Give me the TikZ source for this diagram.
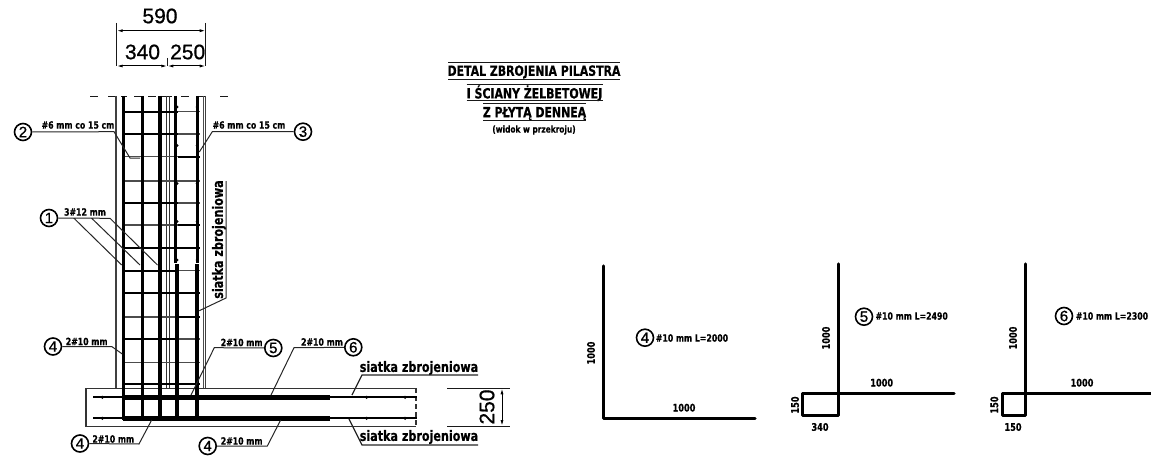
\documentclass[tikz,border=0pt]{standalone}
\usepackage{fontspec}
\setmainfont{Liberation Sans}
\newfontfamily\cadf[FakeStretch=.78,BoldFeatures={FakeBold=.5}]{DejaVu Sans}
\newfontfamily\bigf[FakeBold=.8]{Liberation Sans}
\usetikzlibrary{arrows.meta}
\tikzset{
  thinl/.style={line width=1pt,black!90},
  wall/.style={line width=1.2pt,black!75},
  leader/.style={line width=1pt,black!85},
  barA/.style={line width=3.8pt,black},
  barB/.style={line width=2.6pt,black},
  stB/.style={line width=2pt,black},
  stG/.style={line width=1.5pt,black!70},
  rebar/.style={line width=3.2pt,black,line cap=round,line join=round},
  dimtip/.style={line width=1pt,black,{Latex[length=6pt,width=3pt]}-{Latex[length=6pt,width=3pt]}},
  num/.style={circle,draw,line width=1.6pt,inner sep=0pt,minimum size=17pt,font=\fontsize{15}{15}\selectfont\bigf},
  bigt/.style={inner sep=0pt,font=\fontsize{21}{21}\selectfont\bigf},
  smallt/.style={inner sep=0pt,font=\fontsize{10}{10}\selectfont\cadf\bfseries},
  mesht/.style={inner sep=0pt,font=\fontsize{14.3}{15}\selectfont\cadf\bfseries},
  titlet/.style={inner sep=0pt,font=\fontsize{14}{14}\selectfont\cadf\bfseries},
  subt/.style={inner sep=0pt,font=\fontsize{9.5}{10}\selectfont\cadf\bfseries},
  dimt/.style={inner sep=0pt,font=\fontsize{10.5}{10}\selectfont\cadf\bfseries},
}
\begin{document}
\begin{tikzpicture}[x=1pt,y=-1pt]
\useasboundingbox (0,0) rectangle (1151,468);
% top dimensions
\node[bigt] (d590) at (160,16) {590};
\node[bigt] (d340) at (142.5,52) {340};
\node[bigt] (d250) at (187.7,52) {250};
\draw[thinl] (116.7,23)--(116.7,66) (205.7,23)--(205.7,66) (167.3,58)--(167.3,66);
\draw[dimtip] (116.7,30.7)--(205.7,30.7);
\draw[dimtip] (116.7,66)--(167.3,66);
\draw[dimtip] (167.3,66)--(205.7,66);
% break line
\foreach \a/\b in {90/98,108/116,121/127,134/141,148/156,161/172,181/189,198/206,220/228}
  \draw[thinl] (\a,96.3)--(\b,96.3);
% wall
\draw[wall] (116,96)--(116,388) (205.7,96)--(205.7,388);
\draw[line width=1.4pt,black!70] (203.6,96)--(203.6,388);
\draw[line width=1.3pt,black!80] (166.7,96)--(166.7,388) (169.2,96)--(169.2,388);
% slab
\draw[line width=1.3pt,black!80] (416,388.3)--(86,388.3)--(86,426.5)--(416,426.5);
\draw[line width=1.3pt,black!80,dash pattern=on 5pt off 3pt] (416,388.3)--(416,426.5);
% stirrups
\foreach \y/\l/\r in {111.7/stB/stG,134/stB/stG,156.7/stG/stB,181/stG/stG,203/stB/stG,225/stG/stB,248.3/stB/stB,270.7/stB/stG,293/stB/stB,317/stG/stB,339/stB/stG,362.7/stG/stG,384/stB/stB}{
  \draw[\l] (122,\y)--(177.7,\y);
  \draw[\r] (177.7,\y)--(200,\y);
}
% vertical bars
\draw[barA] (123.5,96)--(123.5,420);
\draw[line width=3.4pt] (142.3,96)--(142.3,420);
\draw[barA] (160.2,96)--(160.2,420);
\draw[barB] (175.6,96)--(175.6,263);
\draw[barB] (197.6,96)--(197.6,263);
\draw[line width=4.4pt] (176.8,264)--(176.8,420);
\draw[line width=4.2pt] (196.8,264)--(196.8,420);
% dots
\foreach \y in {107,145.5,183.5,221.5,260}{
  \fill (177,\y) circle (1.5pt);
  \fill (197,\y) circle (1.5pt);
}
% slab bars
\draw[line width=2.2pt] (93.3,397.3)--(416.5,397.3) (93.3,418.3)--(416.5,418.3);
\draw[line width=5pt] (123,397.3)--(330,397.3) (123,418.3)--(330,418.3);
\foreach \x in {102.3,366.7,405}{
  \fill (\x,397.3) circle (1.7pt);
  \fill (\x,418.3) circle (1.7pt);
}
% labels with leaders
\node[num] (c2) at (23,132) {2};
\node[smallt] (t2) at (78,125) {\#6 mm co 15 cm};
\coordinate (e2a) at (114,131.7); \coordinate (e2b) at (130,158); \coordinate (e2c) at (140,158);
\draw[leader] (c2)--(e2a)--(e2b)--(e2c);
\node[num] (c3) at (303,131.7) {3};
\node[smallt] (t3) at (249,125) {\#6 mm co 15 cm};
\coordinate (e3a) at (212.3,131.7); \coordinate (e3b) at (199.3,152);
\draw[leader] (c3)--(e3a)--(e3b);
\node[num] (c1) at (49,218) {1};
\node[smallt] (t1) at (85,212) {3\#12 mm};
\coordinate (e1a) at (110,218.3); \coordinate (e1b) at (157.5,265);
\coordinate (e1c) at (91.7,218.3); \coordinate (e1d) at (140,265);
\coordinate (e1e) at (74,218.3); \coordinate (e1f) at (121.7,265);
\draw[leader] (c1)--(e1a)--(e1b) (e1c)--(e1d) (e1e)--(e1f);
\node[mesht,rotate=90] (tv) at (219,239.5) {siatka zbrojeniowa};
\coordinate (eva) at (226,181); \coordinate (evb) at (226,298); \coordinate (evc) at (199.3,310.7);
\draw[leader] (eva)--(evb)--(evc);
\node[num] (c4a) at (53,346.5) {4};
\node[smallt] (t4a) at (86.7,341.5) {2\#10 mm};
\coordinate (e4a) at (111.7,346.5); \coordinate (e4b) at (122.3,354);
\draw[leader] (c4a)--(e4a)--(e4b);
\node[num] (c5) at (273.3,348) {5};
\node[smallt] (t5) at (241.7,342.5) {2\#10 mm};
\coordinate (e5a) at (214.3,347.7); \coordinate (e5b) at (191,395);
\draw[leader] (c5)--(e5a)--(e5b);
\node[num] (c6) at (353.3,347.3) {6};
\node[smallt] (t6) at (322,342) {2\#10 mm};
\coordinate (e6a) at (294,347.7); \coordinate (e6b) at (271,395);
\draw[leader] (c6)--(e6a)--(e6b);
\node[num] (c4b) at (80,443.5) {4};
\node[smallt] (t4b) at (113.3,439) {2\#10 mm};
\coordinate (e4c) at (139,444); \coordinate (e4d) at (151.7,420);
\draw[leader] (c4b)--(e4c)--(e4d);
\node[num] (c4c) at (207.7,446) {4};
\node[smallt] (t4c) at (241.7,441) {2\#10 mm};
\coordinate (e4e) at (267.3,446); \coordinate (e4f) at (280.7,420);
\draw[leader] (c4c)--(e4e)--(e4f);
% slab mesh labels
\node[mesht] (tm1) at (419,368) {siatka zbrojeniowa};
\coordinate (m1a) at (478,375); \coordinate (m1b) at (362,375); \coordinate (m1c) at (352,395);
\draw[line width=1.2pt,black!85] (m1a)--(m1b)--(m1c);
\node[mesht] (tm2) at (419,437) {siatka zbrojeniowa};
\coordinate (m2a) at (478,445); \coordinate (m2b) at (362,445); \coordinate (m2c) at (349,419);
\draw[line width=1.2pt,black!85] (m2a)--(m2b)--(m2c);
% 250 dimension
\node[bigt,rotate=90] (dv) at (487,407) {250};
\draw[thinl] (447,388.3)--(510,388.3) (447,426)--(510,426);
\draw[dimtip] (502,388.3)--(502,426);
% title
\node[titlet] (tt1) at (534,72) {DETAL ZBROJENIA PILASTRA};
\node[titlet] (tt2) at (534.5,93.3) {I ŚCIANY ŻELBETOWEJ};
\node[titlet] (tt3) at (534.5,113.5) {Z PŁYTĄ DENNEĄ};
\node[subt] (tt4) at (534,130) {(widok w przekroju)};
\draw[thinl] (448.3,62.7)--(620,62.7) (448.3,80)--(620,80)
  (466.7,84.3)--(602.7,84.3) (466.7,101)--(602.7,101)
  (483,104)--(585.7,104) (483,121)--(585.7,121);
% bar 4
\draw[rebar] (603.3,266)--(603.3,418.3)--(755,418.3);
\node[dimt,rotate=90] (s41) at (591,353) {1000};
\node[dimt] (s42) at (684,407.7) {1000};
\node[num] (s4c) at (645,337.7) {4};
\node[smallt] (s4t) at (692,338) {\#10 mm L=2000};
% bar 5
\draw[rebar] (838.3,264)--(838.3,415.7)--(802.3,415.7)--(802.3,393.3)--(954,393.3);
\node[dimt,rotate=90] (s51) at (826,338) {1000};
\node[dimt,rotate=90] (s52) at (795,405) {150};
\node[dimt] (s53) at (820,427) {340};
\node[dimt] (s54) at (881.7,382.7) {1000};
\node[num] (s5c) at (864,316.7) {5};
\node[smallt] (s5t) at (911.7,316) {\#10 mm L=2490};
% bar 6
\draw[rebar] (1025.3,264)--(1025.3,415.7)--(1002.3,415.7)--(1002.3,393.3)--(1151,393.3);
\node[dimt,rotate=90] (s61) at (1013,338) {1000};
\node[dimt,rotate=90] (s62) at (994.3,405) {150};
\node[dimt] (s63) at (1013,427) {150};
\node[dimt] (s64) at (1082,382.7) {1000};
\node[num] (s6c) at (1064,316) {6};
\node[smallt] (s6t) at (1112,316) {\#10 mm L=2300};
\end{tikzpicture}
\end{document}
